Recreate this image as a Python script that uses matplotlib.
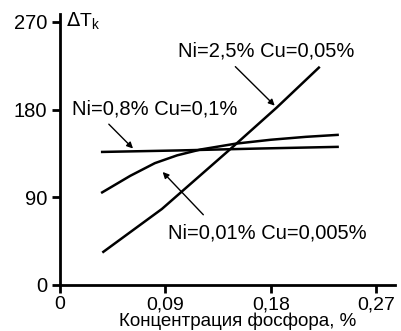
import matplotlib
matplotlib.use('Agg')
import matplotlib.pyplot as plt

plt.rcParams['font.family'] = ['Liberation Sans', 'DejaVu Sans']

# data
x_ticks = [0, 0.09, 0.18, 0.27]
x_tick_labels = ['0', '0,09', '0,18', '0,27']
y_ticks = [0, 90, 180, 270]
y_tick_labels = ['0', '90', '180', '270']

# Ni=2,5% Cu=0,05%
p_ni25 = [0.037, 0.087, 0.145, 0.185, 0.221]
t_ni25 = [34, 78, 139, 182, 223]

# Ni=0,8% Cu=0,1%
p_ni08 = [0.036, 0.10, 0.17, 0.237]
t_ni08 = [136.5, 138, 140, 141.7]

# Ni=0,01% Cu=0,005%
p_ni001 = [0.036, 0.06, 0.081, 0.10, 0.12, 0.15, 0.18, 0.21, 0.237]
t_ni001 = [95, 112, 125, 133, 139, 145, 149, 152, 154]

fig = plt.figure(figsize=(4.02, 3.31), dpi=100)
ax = fig.add_axes([60 / 402, 46 / 331, 335 / 402, 271 / 331])

lw = 1.8
ax.plot(p_ni25, t_ni25, color='black', lw=lw)
ax.plot(p_ni08, t_ni08, color='black', lw=lw)
ax.plot(p_ni001, t_ni001, color='black', lw=lw)

ax.set_xlim(0, 0.286)
ax.set_ylim(0, 278)

for s in ['top', 'right']:
    ax.spines[s].set_visible(False)
for s in ['left', 'bottom']:
    ax.spines[s].set_linewidth(2)

ax.set_xticks(x_ticks)
ax.set_xticklabels(x_tick_labels)
ax.set_yticks(y_ticks)
ax.set_yticklabels(y_tick_labels)
ax.tick_params(axis='y', direction='out', length=6, width=2, labelsize=14.5, pad=3)
ax.tick_params(axis='x', direction='out', length=6, width=2, labelsize=14, pad=2)

ax.set_xlabel('Концентрация фосфора, %', fontsize=13.5)
ax.xaxis.set_label_coords(0.531, -0.1)

ax.text(0.005, 270, r'$\Delta$T$_\mathregular{k}$', fontsize=14, va='center', ha='left')

arrow = dict(arrowstyle='-|>', color='black', lw=1, mutation_scale=9)
fs = 14.5
ax.annotate('Ni=2,5% Cu=0,05%', xy=(0.185, 182), xytext=(0.101, 240),
            fontsize=fs, va='center', ha='left')
ax.annotate('', xy=(0.185, 182), xytext=(0.148, 226), arrowprops=arrow)

ax.annotate('Ni=0,8% Cu=0,1%', xy=(0.064, 138), xytext=(0.010, 181),
            fontsize=fs, va='center', ha='left')
ax.annotate('', xy=(0.064, 138), xytext=(0.040, 167), arrowprops=arrow)

ax.annotate('Ni=0,01% Cu=0,005%', xy=(0.086, 118), xytext=(0.092, 53),
            fontsize=fs, va='center', ha='left')
ax.annotate('', xy=(0.086, 118), xytext=(0.124, 70), arrowprops=arrow)

fig.savefig('out.png', dpi=100)
